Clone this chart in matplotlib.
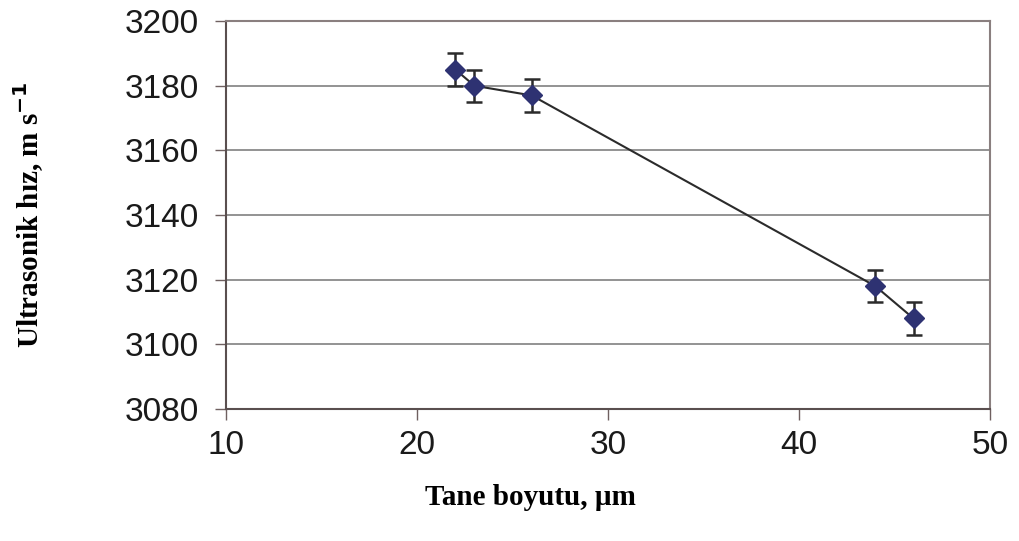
import numpy as np
import matplotlib.pyplot as plt

grain = [22, 23, 26, 44, 46]
speed = [3185, 3180, 3177, 3118, 3108]
err = [5, 5, 5, 5, 5]
xticks = [10, 20, 30, 40, 50]
yticks = [3080, 3100, 3120, 3140, 3160, 3180, 3200]

fig = plt.figure(figsize=(10.19, 5.41), dpi=100)
ax = fig.add_axes([0.222, 0.244, 0.7495, 0.717])

for y in yticks:
    ax.axhline(y, color="#808080", lw=1.2, zorder=0)

ax.errorbar(grain, speed, yerr=err, fmt="none", ecolor="#2b2b2b", elinewidth=1.8,
            capsize=6, capthick=1.8, zorder=2)
ax.plot(grain, speed, color="#2b2b2b", lw=1.5, zorder=3)
ax.plot(grain, speed, "D", color="#2e3272", ms=10.5, zorder=4)

ax.set_xlim(10, 50)
ax.set_ylim(3080, 3200)
ax.set_xticks(xticks)
ax.set_yticks(yticks)
ax.tick_params(direction="out", length=8, width=1, color="#6f6060",
               labelsize=24)
ax.tick_params(axis="y", pad=12)
ax.tick_params(axis="x", pad=7)
for lab in ax.get_xticklabels() + ax.get_yticklabels():
    lab.set_family("Liberation Sans")
    lab.set_color("#1a1a1a")
for s in ax.spines.values():
    s.set_color("#8a7f7f")
    s.set_linewidth(1.5)
ax.spines["left"].set_color("#5a4f4f")
ax.spines["bottom"].set_color("#5a4f4f")

fig.text(0.521, 0.081, "Tane boyutu, µm", family="Liberation Serif",
         weight="bold", fontsize=21, ha="center", va="center")
fig.text(0.028, 0.603, "Ultrasonik hız, m s$^{\\mathbf{-1}}$",
         family="Liberation Serif", weight="bold", fontsize=21,
         rotation=90, ha="center", va="center")

fig.savefig("out.png", dpi=100)
